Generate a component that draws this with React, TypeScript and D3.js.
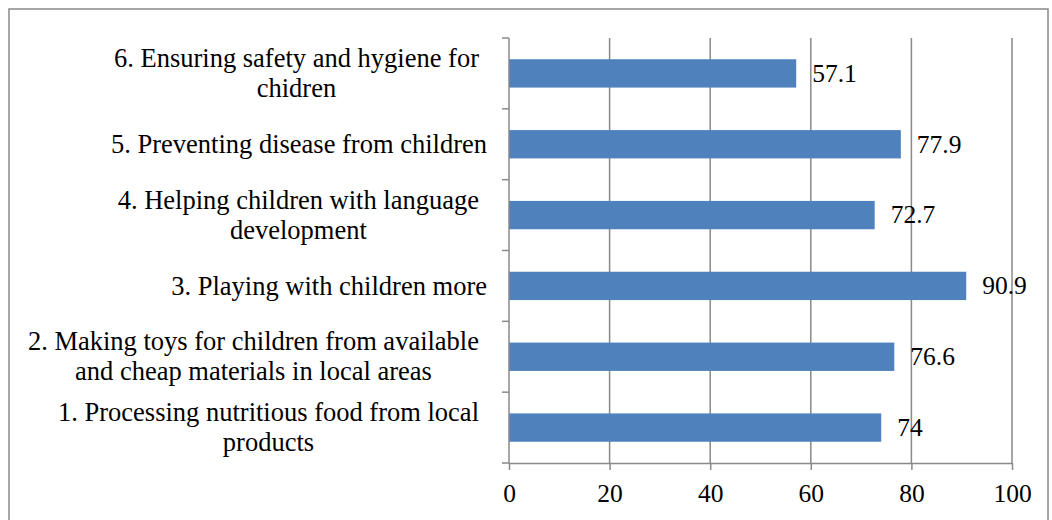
import React, { useEffect, useRef } from 'react';
import * as d3 from 'd3';

const CATEGORIES = [
  ['6. Ensuring safety and hygiene for', 'chidren'],
  ['5. Preventing disease from children'],
  ['4. Helping children with language', 'development'],
  ['3. Playing with children more'],
  ['2. Making toys for children from available', 'and cheap materials in local areas'],
  ['1. Processing nutritious food from local', 'products'],
];
const VALUES = [57.1, 77.9, 72.7, 90.9, 76.6, 74];
const X_TICKS = [0, 20, 40, 60, 80, 100];

const FONT = '"Liberation Serif"';

const App = () => {
  const ref = useRef<SVGSVGElement>(null);

  useEffect(() => {
    const svg = d3.select(ref.current);
    svg.selectAll('*').remove();

    const left = 509, right = 1012, top = 38, bottom = 463;
    const grey = '#898989';

    // outer frame
    svg.append('rect').attr('x', 9).attr('y', 9).attr('width', 1039).attr('height', 530)
      .attr('fill', 'white').attr('stroke', grey).attr('stroke-width', 1.5);

    const x = d3.scaleLinear().domain([0, 100]).range([left, right]);
    const y = d3.scaleBand<number>().domain(d3.range(CATEGORIES.length))
      .range([top, bottom]).paddingInner(0.6).paddingOuter(0.3);

    // gridlines
    svg.append('g').selectAll('line').data(X_TICKS.slice(1)).enter().append('line')
      .attr('x1', (d) => x(d)).attr('x2', (d) => x(d)).attr('y1', top).attr('y2', bottom)
      .attr('stroke', grey).attr('stroke-width', 1.5);

    // bars
    svg.append('g').selectAll('rect').data(VALUES).enter().append('rect')
      .attr('x', x(0)).attr('y', (_d, i) => y(i)!).attr('width', (d) => x(d) - x(0))
      .attr('height', y.bandwidth()).attr('fill', '#4F81BD');

    // x axis
    const xa = svg.append('g').attr('transform', `translate(0, ${bottom})`)
      .call(d3.axisBottom(x).tickValues(X_TICKS).tickSize(7).tickSizeOuter(0).tickPadding(14));
    xa.attr('font-family', null).attr('font-size', null);
    xa.select('.domain').attr('stroke', grey).attr('stroke-width', 1.5);
    xa.selectAll('line').attr('stroke', grey).attr('stroke-width', 1.5);
    xa.selectAll('text').style('font-size', '25.5px').attr('fill', '#000');

    // y axis line with boundary ticks
    const step = y.step();
    svg.append('line').attr('x1', left).attr('x2', left).attr('y1', top).attr('y2', bottom)
      .attr('stroke', grey).attr('stroke-width', 1.5);
    svg.append('g').selectAll('line').data(d3.range(CATEGORIES.length + 1)).enter().append('line')
      .attr('x1', left - 7).attr('x2', left).attr('y1', (d) => top + d * step).attr('y2', (d) => top + d * step)
      .attr('stroke', grey).attr('stroke-width', 1.5);

    // category labels
    const lineH = 30;
    CATEGORIES.forEach((lines, i) => {
      const cy = y(i)! + y.bandwidth() / 2;
      const g = svg.append('g');
      const texts = lines.map((t, j) =>
        g.append('text').text(t)
          .attr('y', cy + (j - (lines.length - 1) / 2) * lineH)
          .attr('dy', '0.33em').attr('text-anchor', 'middle')
          .style('font-size', '26.5px').attr('fill', '#000'));
      const maxW = d3.max(texts, (t) => (t.node() as SVGTextElement).getComputedTextLength()) || 0;
      const edge = lines.length > 1 ? 479 : 487;
      texts.forEach((t) => t.attr('x', edge - maxW / 2));
    });

    // value labels
    svg.append('g').selectAll('text').data(VALUES).enter().append('text')
      .attr('x', (d) => x(d) + 16).attr('y', (_d, i) => y(i)! + y.bandwidth() / 2)
      .attr('dy', '0.33em').style('font-size', '25.5px').attr('fill', '#000')
      .text((d) => String(d));
  }, []);

  return (
    <svg ref={ref} width={1052} height={520}
      style={{ position: 'absolute', left: 0, top: 0, background: 'white', fontFamily: FONT }} />
  );
};

export default App;
